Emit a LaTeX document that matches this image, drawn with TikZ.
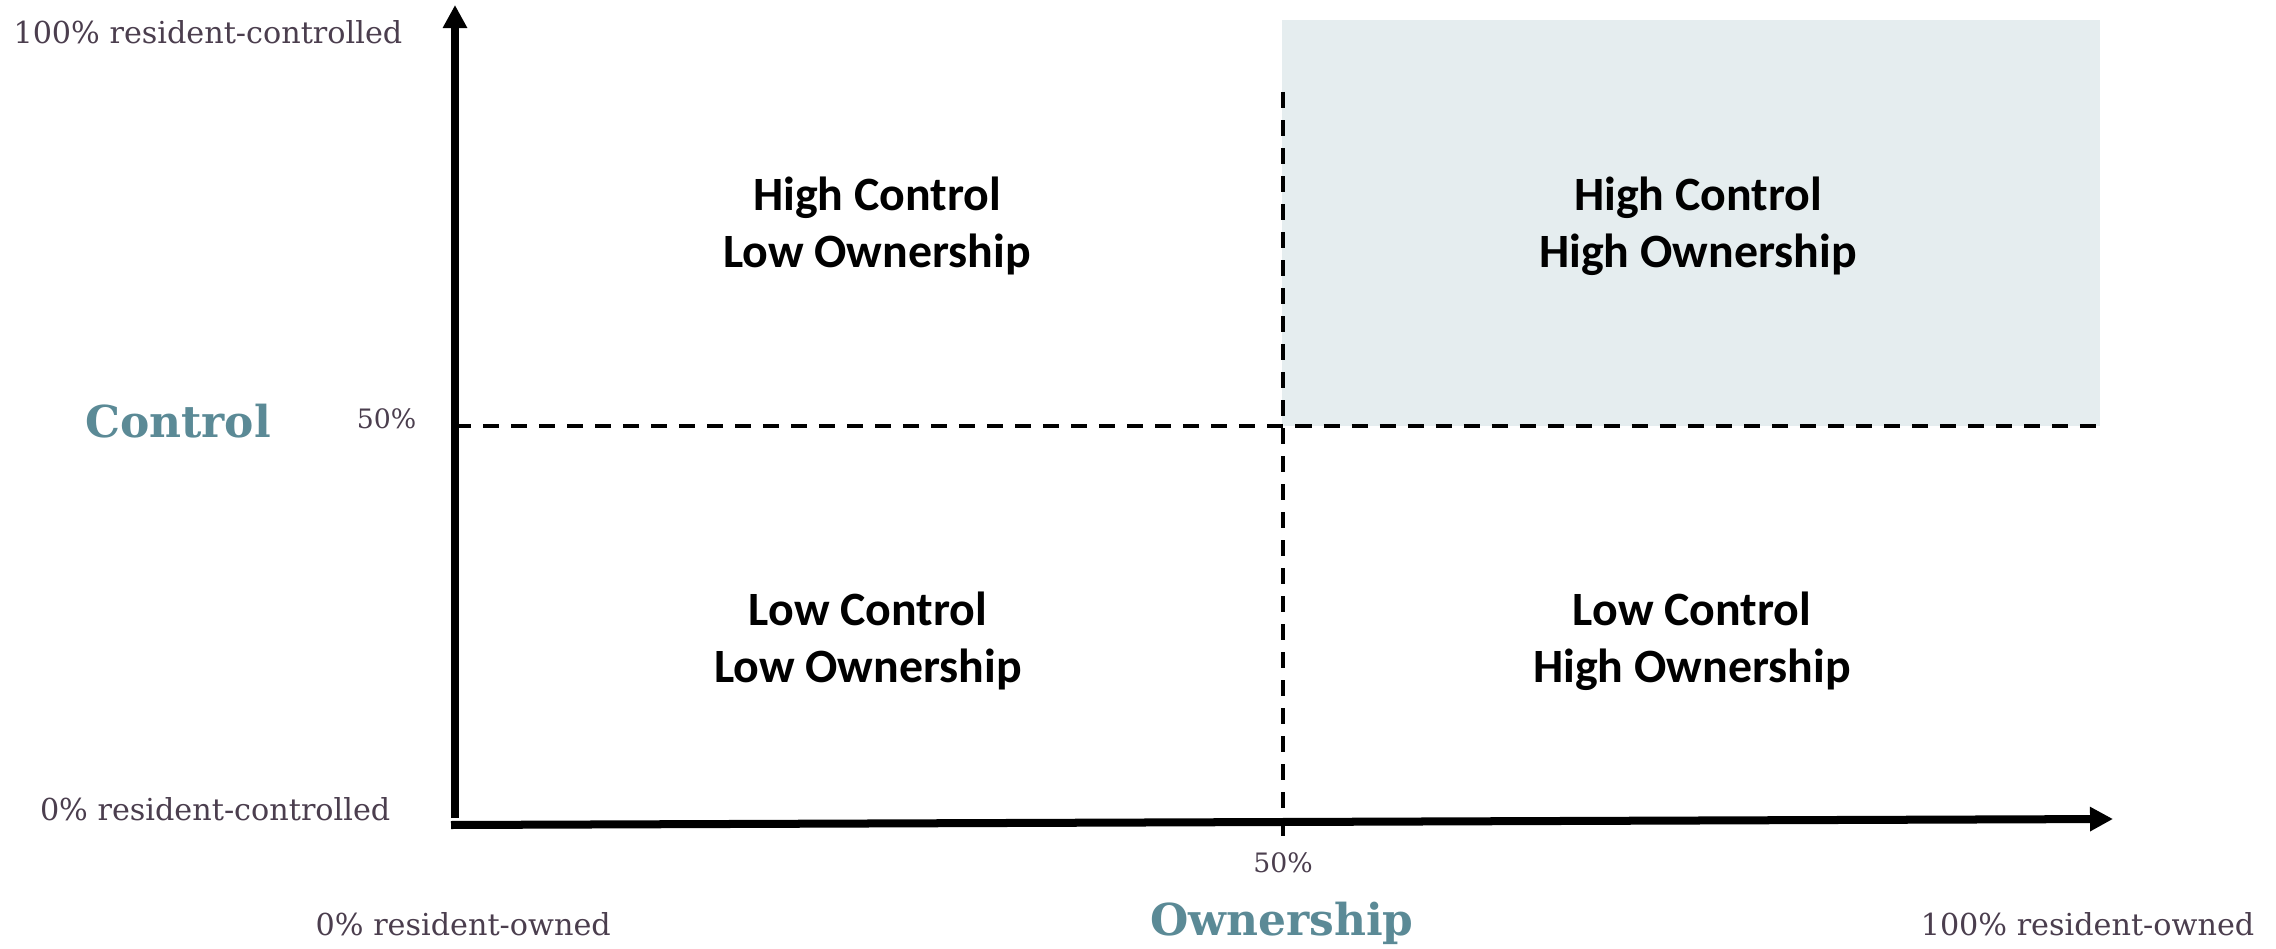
\documentclass[tikz,border=0pt]{standalone}
\usepackage{fontspec}
\usetikzlibrary{arrows.meta}
\newfontfamily\quadfont{Carlito}
\newfontfamily\scalefont{DejaVu Serif}
\definecolor{ticktext}{RGB}{75,62,78}
\definecolor{axistitle}{RGB}{91,138,150}
\definecolor{quadfill}{RGB}{229,237,239}

\begin{document}
\begin{tikzpicture}[x=0.01cm, y=-0.01cm,
    axis/.style={line width=0.08cm, -{Triangle[length=0.23cm, width=0.23cm]}},
    half/.style={line width=0.04cm, dash pattern=on 0.16cm off 0.12cm},
    quad/.style={font=\quadfont\bfseries\fontsize{13.6}{16.2}\selectfont, align=center, inner sep=0pt},
    tick/.style={font=\scalefont\fontsize{8.6}{10}\selectfont, text=ticktext, inner sep=0pt},
    midtick/.style={tick, font=\scalefont\fontsize{7.6}{9}\selectfont},
    title/.style={font=\scalefont\bfseries\fontsize{12.5}{15}\selectfont, text=axistitle, inner sep=0pt}]
    \useasboundingbox (0,0) rectangle (2276,949);
    % Shaded quadrant
    \fill[quadfill] (1282,20) rectangle (2100,426);
    % Axis ends
    \coordinate (Ybot) at (455,818);
    \coordinate (Ytop) at (455,5);
    \coordinate (Xbot) at (451,825);
    \coordinate (Xtop) at (2113,819);
    \coordinate (Vtop) at (1283,92);
    \coordinate (Vbot) at (1283,836);
    \coordinate (Hleft) at (455,426);
    \coordinate (Hright) at (2100,426);
    % Axes
    \draw[axis] (Ybot) -- (Ytop);
    \draw[axis] (Xbot) -- (Xtop);
    % 50% lines
    \draw[half] (Vtop) -- (Vbot);
    \draw[half] (Hleft) -- (Hright);
    % Quadrants
    \node[quad] (HCLO) at (877,226) {High Control\\Low Ownership};
    \node[quad] (HCHO) at (1698,226) {High Control\\High Ownership};
    \node[quad] (LCLO) at (868,641) {Low Control\\Low Ownership};
    \node[quad] (LCHO) at (1692,641) {Low Control\\High Ownership};
    % Control scale
    \node[tick, anchor=base east] (cmax) at (403,44) {100\% resident-controlled};
    \node[midtick, anchor=base east] (cmid) at (417,429) {50\%};
    \node[tick, anchor=base east] (cmin) at (391,820) {0\% resident-controlled};
    \node[title, anchor=base] (control) at (178,437) {Control};
    % Ownership scale
    \node[tick, anchor=base west] (omin) at (315,935) {0\% resident-owned};
    \node[midtick, anchor=base] (omid) at (1283,872) {50\%};
    \node[tick, anchor=base east] (omax) at (2255,935) {100\% resident-owned};
    \node[title, anchor=base] (ownership) at (1282,935) {Ownership};
\end{tikzpicture}
\end{document}
